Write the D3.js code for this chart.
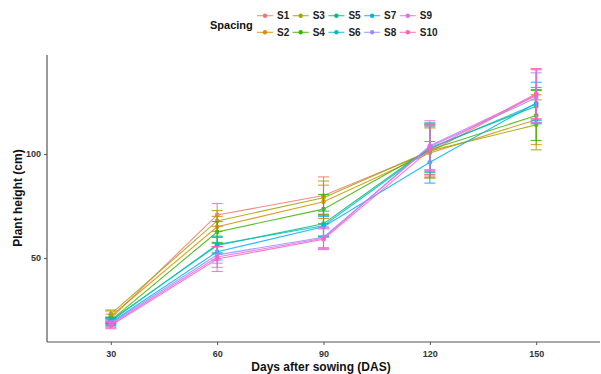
<!DOCTYPE html>
<html>
<head>
<meta charset="utf-8">
<script src="https://cdn.jsdelivr.net/npm/d3@7"></script>
<style>
  body { margin: 0; background: #fff; }
  text { font-family: "Liberation Sans", Arial, sans-serif; }
</style>
</head>
<body>
<svg width="601" height="374"></svg>
<script>
// data
const days = ['30', '60', '90', '120', '150']
const spacing = ['S1', 'S2', 'S3', 'S4', 'S5', 'S6', 'S7', 'S8', 'S9', 'S10']
const colors = ['#F8766D', '#D89000', '#A3A500', '#39B600', '#00BF7D',
  '#00BFC4', '#00B0F6', '#9590FF', '#E76BF3', '#FF62BC']

const S1 = [21, 70.7, 80, 101, 128.5]
const S2 = [22, 65, 77, 100.5, 116.5]
const S3 = [23, 67.8, 79, 101.5, 114]
const S4 = [20, 62.5, 73.5, 102, 118.5]
const S5 = [20, 56, 66.5, 103, 123]
const S6 = [19.5, 56.5, 65.5, 102.5, 124]
const S7 = [19, 53, 65, 96, 124.5]
const S8 = [18.5, 51.5, 60, 103.5, 127]
const S9 = [18, 50.5, 59.5, 104, 128]
const S10 = [17.5, 49.5, 59, 102, 129]

const se1 = [2, 5.5, 9, 12, 12]
const se2 = [2.5, 5, 8, 12, 12]
const se3 = [2, 5, 8, 13, 12]
const se4 = [1.5, 5, 7, 12, 12]
const se5 = [1.5, 4, 6, 12, 8]
const se6 = [1.5, 4, 5, 11, 8]
const se7 = [1.5, 4, 5, 10, 10]
const se8 = [1.5, 4, 5, 11, 12]
const se9 = [1.5, 5, 5, 12, 13]
const se10 = [1.5, 6, 5, 12, 12]

const yTicks = [50, 100]

const values = [S1, S2, S3, S4, S5, S6, S7, S8, S9, S10]
const errors = [se1, se2, se3, se4, se5, se6, se7, se8, se9, se10]

const series = spacing.map((s, i) => ({
  name: s,
  color: colors[i],
  pts: days.map((d, j) => ({ day: d, v: values[i][j], se: errors[i][j] }))
}))

const svg = d3.select('svg')
const pLeft = 47, pRight = 600, pTop = 55, pBottom = 342

const x = d3.scalePoint().domain(days).range([pLeft, pRight]).padding(0.6)
const y = d3.scaleLinear().domain([9.6, 147.6]).range([pBottom, pTop])

// axes
const axisColor = '#555'
const xAxis = svg.append('g')
  .attr('transform', 'translate(0,' + pBottom + ')')
  .call(d3.axisBottom(x).tickSizeOuter(0).tickSize(3).tickPadding(6))
const yAxis = svg.append('g')
  .attr('transform', 'translate(' + pLeft + ',0)')
  .call(d3.axisLeft(y).tickValues(yTicks).tickSizeOuter(0).tickSize(3).tickPadding(3))

for (const ax of [xAxis, yAxis]) {
  ax.select('.domain').remove()
  ax.selectAll('line').attr('stroke', axisColor)
  ax.selectAll('text').attr('fill', '#333').style('font-size', '9px').style('font-weight', 'bold')
}
svg.append('line').attr('x1', pLeft).attr('x2', pRight).attr('y1', pBottom).attr('y2', pBottom)
  .attr('stroke', axisColor).attr('stroke-width', 1.2)
svg.append('line').attr('x1', pLeft).attr('x2', pLeft).attr('y1', pTop).attr('y2', pBottom)
  .attr('stroke', axisColor).attr('stroke-width', 1.2)

// axis titles
svg.append('text').attr('x', 321).attr('y', 371).attr('text-anchor', 'middle')
  .style('font-size', '12px').style('font-weight', 'bold').attr('fill', '#111')
  .text('Days after sowing (DAS)')
svg.append('text').attr('transform', 'translate(22,198) rotate(-90)').attr('text-anchor', 'middle')
  .style('font-size', '12px').style('font-weight', 'bold').attr('fill', '#111')
  .text('Plant height (cm)')

// series
const line = d3.line().x(d => x(d.day)).y(d => y(d.v))
const g = svg.selectAll('.series').data(series).enter().append('g').attr('class', 'series')
  .attr('opacity', 0.85)

g.append('path')
  .attr('d', d => line(d.pts))
  .attr('fill', 'none')
  .attr('stroke', d => d.color)
  .attr('stroke-width', 1.1)

const cap = 5.5
g.each(function (s) {
  const eb = d3.select(this).selectAll('.eb').data(s.pts).enter().append('g')
    .attr('stroke', s.color).attr('stroke-width', 1.1)
  eb.append('line').attr('x1', d => x(d.day)).attr('x2', d => x(d.day))
    .attr('y1', d => y(d.v - d.se)).attr('y2', d => y(d.v + d.se))
  eb.append('line').attr('x1', d => x(d.day) - cap).attr('x2', d => x(d.day) + cap)
    .attr('y1', d => y(d.v + d.se)).attr('y2', d => y(d.v + d.se))
  eb.append('line').attr('x1', d => x(d.day) - cap).attr('x2', d => x(d.day) + cap)
    .attr('y1', d => y(d.v - d.se)).attr('y2', d => y(d.v - d.se))
  d3.select(this).selectAll('circle').data(s.pts).enter().append('circle')
    .attr('cx', d => x(d.day)).attr('cy', d => y(d.v)).attr('r', 2.4)
    .attr('fill', s.color)
})

// legend
svg.append('text').attr('x', 210).attr('y', 29)
  .style('font-size', '11px').style('font-weight', 'bold').attr('fill', '#111')
  .text('Spacing')
const leg = svg.selectAll('.leg').data(series).enter().append('g')
  .attr('transform', (d, i) => 'translate(' + (265 + Math.floor(i / 2) * 35.7) + ',' + (i % 2 === 0 ? 15.7 : 32.3) + ')')
leg.append('line').attr('x1', -8).attr('x2', 8).attr('stroke', d => d.color).attr('stroke-width', 1.1)
  .attr('opacity', 0.85)
leg.append('circle').attr('r', 2.2).attr('fill', d => d.color)
leg.append('text').attr('x', 12).attr('y', 3.5)
  .style('font-size', '10px').style('font-weight', 'bold').attr('fill', '#222')
  .text(d => d.name)
</script>
</body>
</html>
